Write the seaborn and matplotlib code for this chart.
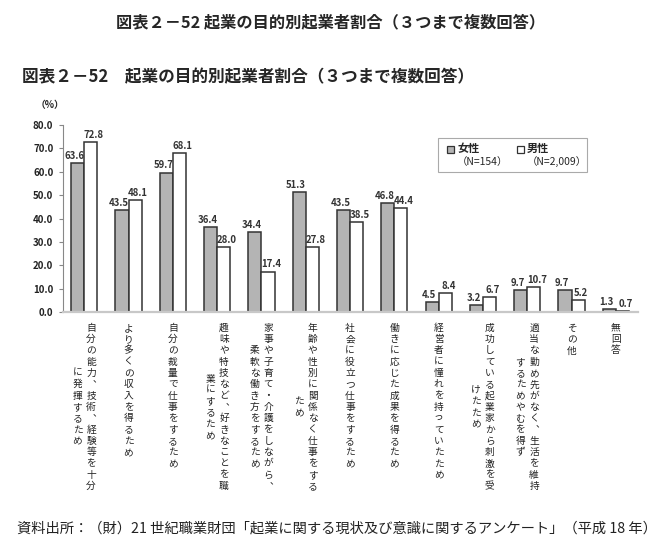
import numpy as np
import pandas as pd
import matplotlib
matplotlib.use("Agg")
import matplotlib.pyplot as plt
from matplotlib.patches import Rectangle
import seaborn as sns

# categories (columns of vertical text separated by "\n")
categories = [
    "自分の能力︑技術︑経験等を十分\nに発揮するため",
    "より多くの収入を得るため",
    "自分の裁量で仕事をするため",
    "趣味や特技など︑好きなことを職\n業にするため",
    "家事や子育て・介護をしながら︑\n柔軟な働き方をするため",
    "年齢や性別に関係なく仕事をする\nため",
    "社会に役立つ仕事をするため",
    "働きに応じた成果を得るため",
    "経営者に憧れを持っていたため",
    "成功している起業家から刺激を受\nけたため",
    "適当な勤め先がなく︑生活を維持\nするためやむを得ず",
    "その他",
    "無回答",
]
female = [63.6, 43.5, 59.7, 36.4, 34.4, 51.3, 43.5, 46.8, 4.5, 3.2, 9.7, 9.7, 1.3]
male = [72.8, 48.1, 68.1, 28.0, 17.4, 27.8, 38.5, 44.4, 8.4, 6.7, 10.7, 5.2, 0.7]
series = ["女性", "男性"]
series_n = ["（N=154）", "（N=2,009）"]
yticks = [0, 10, 20, 30, 40, 50, 60, 70, 80]

sns.set_theme(style="white")
plt.rcParams["font.family"] = ["Noto Sans CJK JP", "DejaVu Sans"]

W, H = 672, 547
fig = plt.figure(figsize=(W / 100, H / 100), dpi=100)
ax = fig.add_axes([63 / W, 1 - 312.3 / H, (638 - 63) / W, (312.3 - 125) / H])

df = pd.DataFrame({
    "cat": list(range(len(categories))) * 2,
    "val": female + male,
    "sex": [series[0]] * len(female) + [series[1]] * len(male),
})

sns.barplot(data=df, x="cat", y="val", hue="sex", palette=["#b4b4b4", "white"],
            edgecolor="#333333", linewidth=1.1, width=0.59, ax=ax, legend=False)

px = 72 / 100  # points per pixel

# value labels, nudged apart so neighbouring labels don't collide
for cont, shift in zip(ax.containers, [-3, 3]):
    for bar in cont.patches:
        h = bar.get_height()
        ax.annotate(f"{h:.1f}", xy=(bar.get_x() + bar.get_width() / 2, h),
                    xytext=(shift * px, 1.5), textcoords="offset points",
                    ha="center", va="bottom", fontsize=6.9, fontweight="bold",
                    color="#333333")

ax.set_xlim(-0.48, len(categories) - 0.5)
ax.set_ylim(0, 80)
ax.set_yticks(yticks)
ax.set_yticklabels([f"{v:.1f}" for v in yticks], fontsize=7, fontweight="bold", color="#222222")
ax.set_xticks([])
ax.set_xlabel("")
ax.set_ylabel("")
ax.tick_params(axis="y", left=True, length=3, width=0.8, color="#888888", pad=4)
for s in ["top", "right"]:
    ax.spines[s].set_visible(False)
ax.spines["left"].set_color("#888888")
ax.spines["left"].set_linewidth(0.8)
ax.spines["bottom"].set_color("#c8c8c8")
ax.spines["bottom"].set_linewidth(1.6)

# vertical category labels, drawn character by character
pitch = 11.3
col_sp = 13.7
for i, lab in enumerate(categories):
    cols = lab.split("\n")
    n0 = len(cols[0])
    nc = len(cols)
    for j, col in enumerate(cols):
        dx = ((nc - 1) / 2 - j) * col_sp
        start = (n0 - len(col)) / 2 * pitch
        for k, ch in enumerate(col):
            dy = -(15.5 + start + k * pitch)
            ax.annotate(ch, xy=(i, 0), xycoords=("data", "axes fraction"),
                        xytext=(dx * px, dy * px), textcoords="offset points",
                        ha="center", va="center", fontsize=7, color="#222222",
                        annotation_clip=False)

# titles and notes
fig.text(331 / W, 1 - 22 / H, "図表２－52 起業の目的別起業者割合（３つまで複数回答）",
         ha="center", va="center", fontsize=11.7, fontweight="bold")
fig.text(22 / W, 1 - 77 / H, "図表２－52　起業の目的別起業者割合（３つまで複数回答）",
         ha="left", va="center", fontsize=12, fontweight="bold")
fig.text(36 / W, 1 - 105 / H, "（%）", ha="left", va="center", fontsize=7, fontweight="bold")
fig.text(17 / W, 1 - 528 / H,
         "資料出所：（財）21 世紀職業財団「起業に関する現状及び意識に関するアンケート」（平成 18 年）",
         ha="left", va="center", fontsize=10.3, color="#222222")

# legend box
fig.add_artist(Rectangle((438 / W, 1 - 172 / H), (587 - 438) / W, (172 - 138) / H,
                         transform=fig.transFigure, facecolor="white",
                         edgecolor="#aaaaaa", linewidth=0.8))
for (sx, color), name, n in zip([(447, "#b4b4b4"), (517, "white")], series, series_n):
    fig.add_artist(Rectangle((sx / W, 1 - 152.5 / H), 7 / W, 7 / H, transform=fig.transFigure,
                             facecolor=color, edgecolor="#333333", linewidth=0.9))
    fig.text((sx + 10) / W, 1 - 148.5 / H, name, ha="left", va="center",
             fontsize=8, fontweight="bold")
    fig.text((sx + 10) / W, 1 - 161.5 / H, n, ha="left", va="center", fontsize=7.5)

fig.savefig("out.png", dpi=100)
